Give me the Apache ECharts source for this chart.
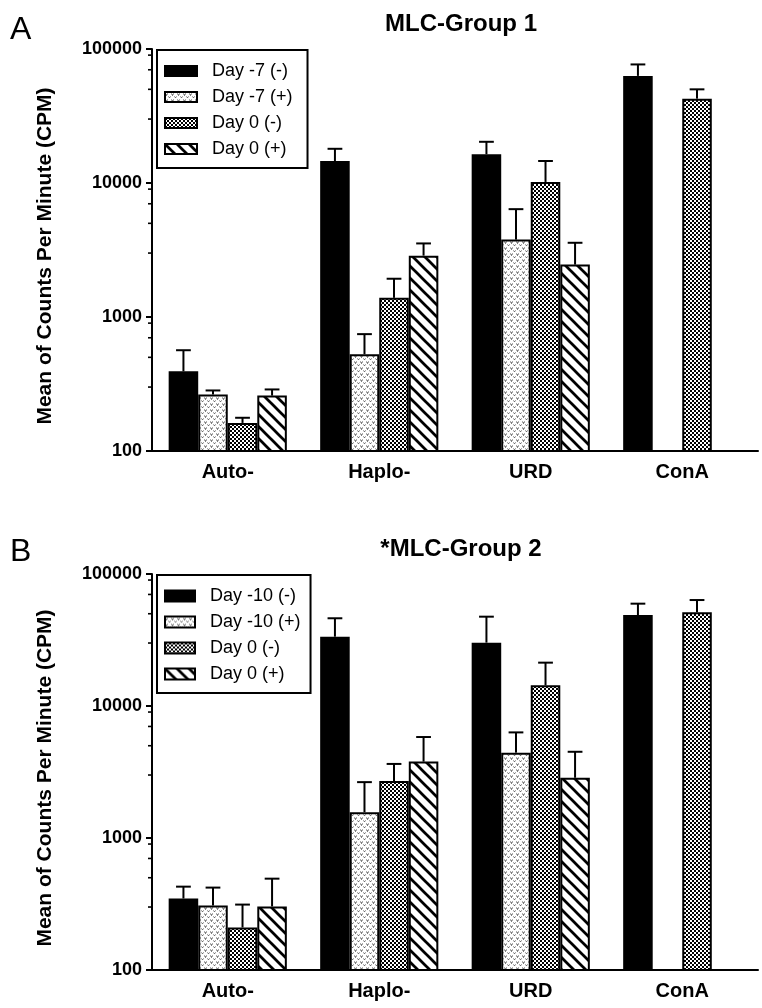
<!DOCTYPE html>
<html>
<head>
<meta charset="utf-8">
<script src="https://cdn.jsdelivr.net/npm/echarts@6/dist/echarts.min.js"></script>
<style>
html,body{margin:0;padding:0;background:#fff;}
#chart{width:762px;height:1008px;}
</style>
</head>
<body>
<div id="chart"></div>
<script>
// ---------- data ----------
const categories = ['Auto-', 'Haplo-', 'URD', 'ConA'];

const namesA = ['Day -7 (-)', 'Day -7 (+)', 'Day 0 (-)', 'Day 0 (+)'];
const a_d7neg = [393, 14600, 16400, 63000];
const a_d7neg_err = [565, 18000, 20300, 76700];
const a_d7pos = [264, 527, 3780, null];
const a_d7pos_err = [283, 745, 6380, null];
const a_d0neg = [162, 1390, 10180, 42600];
const a_d0neg_err = [177, 1930, 14600, 50000];
const a_d0pos = [259, 2870, 2460, null];
const a_d0pos_err = [288, 3540, 3580, null];

const namesB = ['Day -10 (-)', 'Day -10 (+)', 'Day 0 (-)', 'Day 0 (+)'];
const b_d10neg = [348, 33500, 30200, 48900];
const b_d10neg_err = [428, 46200, 47500, 59600];
const b_d10pos = [308, 1570, 4430, null];
const b_d10pos_err = [421, 2650, 6310, null];
const b_d0neg = [210, 2700, 14350, 51300];
const b_d0neg_err = [313, 3640, 21300, 63500];
const b_d0pos = [303, 3790, 2860, null];
const b_d0pos_err = [492, 5820, 4500, null];

const yMin = 100, yMax = 100000;
const yMinorTicks = [300, 500, 700, 900, 3000, 5000, 7000, 9000, 30000, 50000, 70000, 90000];

// ---------- patterns ----------
function mk(w, h, draw) {
  const c = document.createElement('canvas');
  c.width = w; c.height = h;
  const g = c.getContext('2d');
  g.fillStyle = '#fff'; g.fillRect(0, 0, w, h);
  draw(g);
  return c;
}
const speckle = mk(6, 6, g => {
  g.strokeStyle = '#555'; g.lineWidth = 1;
  g.beginPath(); g.moveTo(0.5, 1.5); g.lineTo(1.5, 3.5); g.lineTo(2.5, 1.5); g.stroke();
  g.beginPath(); g.moveTo(3.5, 4.5); g.lineTo(4.5, 5.8); g.lineTo(5.5, 4.5); g.stroke();
});
const checker = mk(4, 4, g => {
  g.fillStyle = '#000';
  g.fillRect(0, 0, 2, 2); g.fillRect(2, 2, 2, 2);
});
const hatch = mk(12, 12, g => {
  g.strokeStyle = '#000'; g.lineWidth = 2.7;
  g.beginPath(); g.moveTo(-2, -2); g.lineTo(14, 14); g.stroke();
  g.beginPath(); g.moveTo(-2, 10); g.lineTo(2, 14); g.stroke();
  g.beginPath(); g.moveTo(10, -2); g.lineTo(14, 2); g.stroke();
});
const fills = [
  '#000',
  {image: speckle, repeat: 'repeat'},
  {image: checker, repeat: 'repeat'},
  {image: hatch, repeat: 'repeat'}
];

const FONT = 'Arial, "Liberation Sans", Helvetica, sans-serif';
const CAT_GAP = 0.22;

function errRender(idx) {
  return function (params, api) {
    const cat = api.value(0), mean = api.value(1), top = api.value(2);
    const p0 = api.coord([cat, mean]);
    const p1 = api.coord([cat, top]);
    const band = params.coordSys.width / categories.length;
    const bw = band * (1 - CAT_GAP) / 4;
    const x = p0[0] + (idx - 1.5) * bw;
    const cap = bw * 0.25;
    const st = {stroke: '#000', lineWidth: 2};
    return {type: 'group', children: [
      {type: 'line', shape: {x1: x, y1: p0[1], x2: x, y2: p1[1]}, style: st},
      {type: 'line', shape: {x1: x - cap, y1: p1[1], x2: x + cap, y2: p1[1]}, style: st}
    ]};
  };
}
function minorRender(params, api) {
  const y = api.coord([0, api.value(1)])[1];
  const x = params.coordSys.x;
  return {type: 'line', shape: {x1: x - 4, y1: y, x2: x, y2: y}, style: {stroke: '#000', lineWidth: 1.6}};
}

function panelSeries(gi, names, vals, errs) {
  const out = [];
  names.forEach((n, i) => {
    out.push({
      type: 'bar', name: n, xAxisIndex: gi, yAxisIndex: gi,
      data: vals[i].map(v => v == null ? '-' : v),
      barGap: '0%', barCategoryGap: (CAT_GAP * 100) + '%',
      itemStyle: {color: fills[i], borderColor: '#000', borderWidth: 2},
      emphasis: {disabled: true}, animation: false
    });
  });
  names.forEach((n, i) => {
    const d = [];
    vals[i].forEach((v, k) => { if (v != null && errs[i][k] != null) d.push([k, v, errs[i][k]]); });
    out.push({
      type: 'custom', xAxisIndex: gi, yAxisIndex: gi, renderItem: errRender(i),
      data: d, encode: {x: 0, y: [1, 2]}, z: 5, animation: false, silent: true
    });
  });
  out.push({
    type: 'custom', xAxisIndex: gi, yAxisIndex: gi, renderItem: minorRender,
    data: yMinorTicks.map(v => [0, v]), encode: {x: 0, y: 1}, clip: false, animation: false, silent: true
  });
  return out;
}

const grids = [
  {left: 152, right: 4, top: 49, height: 402},
  {left: 152, right: 4, top: 574, height: 396}
];

function xAx(gi) {
  return {
    type: 'category', gridIndex: gi, data: categories,
    axisLine: {lineStyle: {color: '#000', width: 2}},
    axisTick: {alignWithLabel: true, length: 6, lineStyle: {color: '#000', width: 2}},
    axisLabel: {color: '#000', fontFamily: FONT, fontWeight: 'bold', fontSize: 20, margin: 11}
  };
}
function yAx(gi) {
  return {
    type: 'log', gridIndex: gi, logBase: 10, min: yMin, max: yMax,
    name: 'Mean of Counts Per Minute (CPM)', nameLocation: 'middle', nameGap: 96,
    nameTextStyle: {color: '#000', fontFamily: FONT, fontWeight: 'bold', fontSize: 21, padding: [0, 12, 0, 0]},
    axisLine: {show: true, lineStyle: {color: '#000', width: 2}},
    axisTick: {show: true, length: 6, lineStyle: {color: '#000', width: 2}},
    splitLine: {show: false},
    axisLabel: {color: '#000', fontFamily: FONT, fontWeight: 'bold', fontSize: 18, margin: 10,
      formatter: v => String(Math.round(v))}
  };
}

function legend(top, names, padRight, iw, ih) {
  return {
    orient: 'vertical', left: 157, top: top, data: names,
    icon: 'rect', itemWidth: iw, itemHeight: ih, itemGap: 8,
    padding: [12, padRight, 10, 7],
    borderColor: '#000', borderWidth: 2, backgroundColor: '#fff',
    selectedMode: false,
    textStyle: {color: '#000', fontFamily: FONT, fontSize: 18, lineHeight: 18, padding: [0, 0, 0, 10]}
  };
}

const option = {
  backgroundColor: '#fff',
  animation: false,
  title: [
    {text: 'MLC-Group 1', left: 456, top: 7, textAlign: 'center',
      textStyle: {color: '#000', fontFamily: FONT, fontWeight: 'bold', fontSize: 24}},
    {text: '*MLC-Group 2', left: 456, top: 532, textAlign: 'center',
      textStyle: {color: '#000', fontFamily: FONT, fontWeight: 'bold', fontSize: 24}},
    {text: 'A', left: 5, top: 9, textStyle: {color: '#000', fontFamily: FONT, fontWeight: 'normal', fontSize: 32}},
    {text: 'B', left: 5, top: 531, textStyle: {color: '#000', fontFamily: FONT, fontWeight: 'normal', fontSize: 32}}
  ],
  legend: [legend(50, namesA, 15, 32, 10), legend(575, namesB, 10, 30, 11)],
  grid: grids,
  xAxis: [xAx(0), xAx(1)],
  yAxis: [yAx(0), yAx(1)],
  series: [].concat(
    panelSeries(0, namesA, [a_d7neg, a_d7pos, a_d0neg, a_d0pos], [a_d7neg_err, a_d7pos_err, a_d0neg_err, a_d0pos_err]),
    panelSeries(1, namesB, [b_d10neg, b_d10pos, b_d0neg, b_d0pos], [b_d10neg_err, b_d10pos_err, b_d0neg_err, b_d0pos_err])
  )
};

const chart = echarts.init(document.getElementById('chart'), null, {renderer: 'canvas'});
chart.setOption(option);
</script>
</body>
</html>
